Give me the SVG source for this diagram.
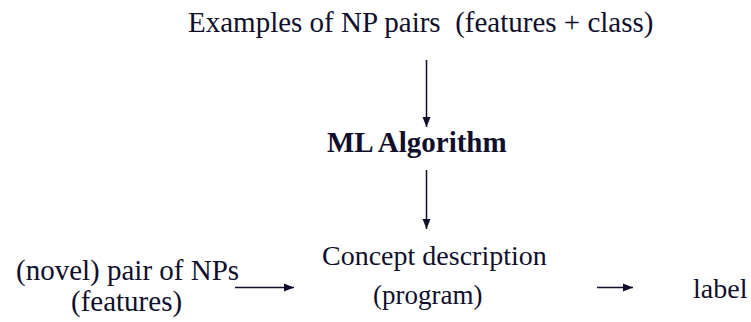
<svg xmlns="http://www.w3.org/2000/svg" width="751" height="322" viewBox="0 0 751 322">
  <defs>
    <marker id="ah" viewBox="0 0 10 10" refX="10" refY="5" markerWidth="10" markerHeight="10" markerUnits="userSpaceOnUse" orient="auto">
      <path d="M0,1 L10,5 L0,9 Z" fill="#0f0f2c"/>
    </marker>
  </defs>
  <rect width="751" height="322" fill="#ffffff"/>

  <g id="examples">
    <text x="188" y="32" font-family="Liberation Serif" font-size="29" fill="#0f0f2c" xml:space="preserve">Examples of NP pairs  (features + class)</text>
  </g>
  <g id="ml-algorithm">
    <text x="327" y="152" font-family="Liberation Serif" font-size="29" font-weight="bold" fill="#0f0f2c">ML Algorithm</text>
  </g>
  <g id="concept">
    <text x="322" y="265" font-family="Liberation Serif" font-size="28" fill="#0f0f2c">Concept description</text>
    <text x="373" y="304" font-family="Liberation Serif" font-size="27" fill="#0f0f2c">(program)</text>
  </g>
  <g id="novel-pair">
    <text x="16" y="280" font-family="Liberation Serif" font-size="29" fill="#0f0f2c">(novel) pair of NPs</text>
    <text x="71" y="311" font-family="Liberation Serif" font-size="29" fill="#0f0f2c">(features)</text>
  </g>
  <g id="label">
    <text x="693" y="298" font-family="Liberation Serif" font-size="28" fill="#0f0f2c">label</text>
  </g>

  <g id="connectors" stroke="#0f0f2c" stroke-width="1.5" fill="none">
    <line x1="426.5" y1="60" x2="426.5" y2="127" marker-end="url(#ah)"/>
    <line x1="426.5" y1="170" x2="426.5" y2="229" marker-end="url(#ah)"/>
    <line x1="235" y1="287.5" x2="294" y2="287.5" marker-end="url(#ah)"/>
    <line x1="597" y1="287.5" x2="633" y2="287.5" marker-end="url(#ah)"/>
  </g>
</svg>
